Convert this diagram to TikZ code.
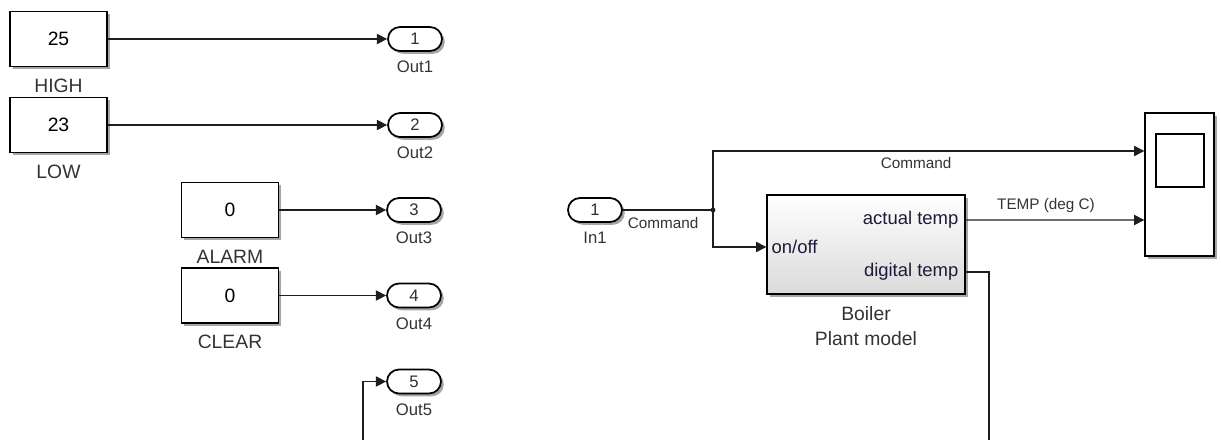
\documentclass[tikz,border=0pt]{standalone}
\usepackage{fontspec}
\setmainfont{Liberation Sans}
\usetikzlibrary{arrows.meta, positioning, calc, shadows}
\definecolor{wireink}{HTML}{1E1E1E}
\definecolor{labelink}{HTML}{333333}
\definecolor{portink}{HTML}{3C2A2A}
\definecolor{blockink}{HTML}{1C1C3A}
\definecolor{plantbottom}{HTML}{DADADA}
\tikzset{
  blockshadow/.style={drop shadow={shadow xshift=1.6pt, shadow yshift=-1.6pt, opacity=0.35, fill=black}},
  constbox/.style={draw=black, line width=0.8pt, fill=white, minimum width=1.94cm,
    minimum height=1.1cm, font=\fontsize{11}{13}\selectfont, text=black, blockshadow},
  portbox/.style={draw=black, line width=1pt, fill=white, rounded corners=0.24cm,
    minimum width=1.08cm, minimum height=0.48cm, inner sep=0pt,
    font=\fontsize{9.5}{11}\selectfont, text=portink, blockshadow},
  plantbox/.style={draw=black, line width=0.8pt, top color=white, bottom color=plantbottom,
    minimum width=3.96cm, minimum height=1.98cm, blockshadow},
  scopebox/.style={draw=black, line width=0.8pt, fill=white, blockshadow},
  blocklabel/.style={anchor=base, inner sep=0pt, font=\fontsize{11}{13}\selectfont, text=labelink},
  portlabel/.style={anchor=base, inner sep=0pt, font=\fontsize{9.5}{11}\selectfont, text=labelink},
  siglabel/.style={anchor=base, inner sep=0pt, font=\fontsize{8.7}{10}\selectfont, text=labelink},
  portname/.style={inner sep=0pt, font=\fontsize{10.5}{12}\selectfont, text=blockink},
  sigwire/.style={draw=wireink, line width=0.75pt},
  sigarrow/.style={sigwire, -{Triangle[length=5.8pt, width=5.8pt]}}
}
\newcommand{\constblock}[4]{%
  \node[constbox] (#1) at (#2) {#3};
  \node[blocklabel] (#1-name) at ($(#1.south)+(0,25)$) {#4};}
\newcommand{\portblock}[4]{%
  \node[portbox] (#1) at (#2) {#3};
  \node[portlabel] (#1-name) at ($(#1.south)+(0,21)$) {#4};}

\begin{document}
\begin{tikzpicture}[x=0.02cm, y=-0.02cm]
  \useasboundingbox (0,0) rectangle (1221,440);
  % constants and their outports
  \constblock{high}{58.5,39}{25}{HIGH}
  \constblock{low}{58.5,125}{23}{LOW}
  \constblock{alarm}{230,210}{0}{ALARM}
  \constblock{clear}{230,295.5}{0}{CLEAR}
  \portblock{out1}{415,39}{1}{Out1}
  \portblock{out2}{415,125}{2}{Out2}
  \portblock{out3}{414,210}{3}{Out3}
  \portblock{out4}{414,295.5}{4}{Out4}
  \portblock{out5}{414,381.5}{5}{Out5}
  \coordinate (cut5) at (363,440);
  \draw[sigarrow] (high) -- (out1);
  \draw[sigarrow] (low) -- (out2);
  \draw[sigarrow] (alarm) -- (out3);
  \draw[sigarrow] (clear) -- (out4);
  \draw[sigarrow] (cut5) |- (out5);
  % plant side
  \portblock{in1}{595,210}{1}{In1}
  \coordinate (junc) at (713,210);
  \node[plantbox] (boiler) at (866,244.5) {};
  \coordinate (b-in) at ($(boiler.west)+(0,2.5)$);
  \coordinate (b-act) at ($(boiler.east)+(0,-24.5)$);
  \coordinate (b-dig) at ($(boiler.east)+(0,27.5)$);
  \node[portname, anchor=west] (lbl-onoff) at ($(b-in)+(5,0)$) {on/off};
  \node[portname, anchor=east] (lbl-act) at ($(b-act)+(-7,0)$) {actual temp};
  \node[portname, anchor=east] (lbl-dig) at ($(b-dig)+(-7,0)$) {digital temp};
  \node[anchor=north, align=center, inner sep=0pt, font=\fontsize{11}{14.7}\selectfont,
        text=labelink] (boiler-name) at ($(boiler.south)+(0,11)$) {Boiler\\Plant model};
  \node[scopebox, minimum width=1.38cm, minimum height=2.86cm] (scope) at (1179.5,184.5) {};
  \node[draw=black, line width=0.8pt, minimum width=0.96cm, minimum height=1.06cm] (screen) at (1180,160.5) {};
  \coordinate (s-in1) at ($(scope.west)+(0,-33.5)$);
  \coordinate (s-in2) at ($(scope.west)+(0,35.5)$);
  \coordinate (cutd) at (989,440);
  \draw[sigwire] (in1) -- (junc);
  \fill[wireink] (junc) circle[radius=1.4pt];
  \draw[sigarrow] (junc) |- (s-in1);
  \draw[sigarrow] (junc) |- (b-in);
  \draw[sigarrow] (b-act) -- (s-in2);
  \draw[sigwire] (b-dig) -| (cutd);
  \node[siglabel] (cmd-in) at (663,228) {Command};
  \node[siglabel] (cmd-top) at (916,168) {Command};
  \node[siglabel] (temp-lbl) at (1046,209) {TEMP (deg C)};
\end{tikzpicture}
\end{document}
